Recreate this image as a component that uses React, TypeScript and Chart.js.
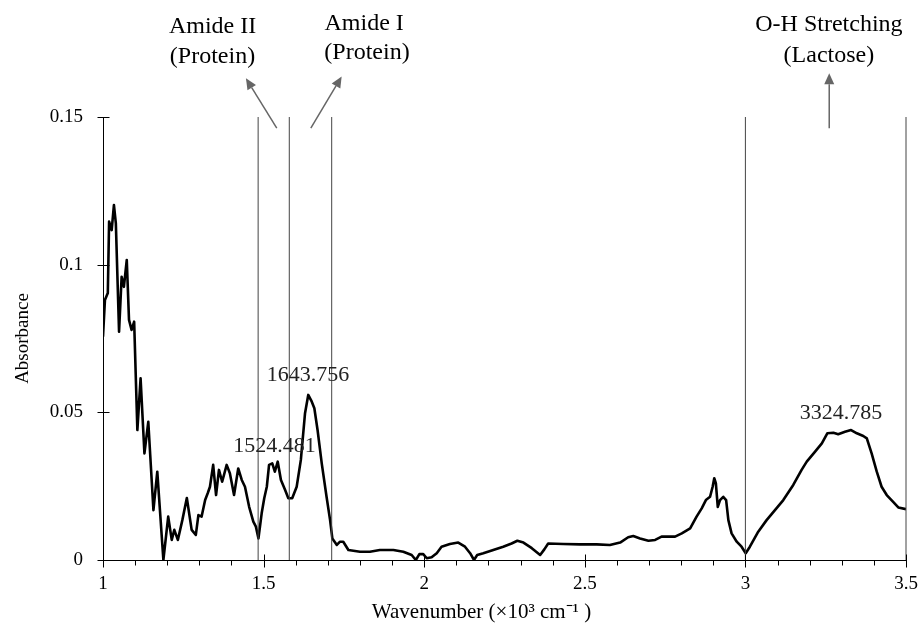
import React, { useEffect, useRef } from 'react';
import { Chart, registerables } from 'chart.js';

Chart.register(...registerables);

const wavenumber = [
  1.000, 1.006, 1.015, 1.019, 1.027, 1.034, 1.040, 1.050, 1.058, 1.065,
  1.074, 1.081, 1.089, 1.097, 1.107, 1.117, 1.129, 1.141, 1.157, 1.169,
  1.188, 1.203, 1.214, 1.222, 1.233, 1.247, 1.261, 1.276, 1.289, 1.297,
  1.307, 1.318, 1.326, 1.333, 1.343, 1.352, 1.361, 1.371, 1.385, 1.395,
  1.408, 1.421, 1.432, 1.442, 1.455, 1.468, 1.476, 1.484, 1.494, 1.502,
  1.510, 1.517, 1.527, 1.535, 1.544, 1.554, 1.567, 1.577, 1.589, 1.603,
  1.616, 1.629, 1.639, 1.650, 1.658, 1.668, 1.681, 1.696, 1.707, 1.714,
  1.728, 1.738, 1.748, 1.764, 1.800, 1.831, 1.862, 1.904, 1.935, 1.961,
  1.974, 1.985, 1.997, 2.008, 2.023, 2.039, 2.054, 2.080, 2.106, 2.127,
  2.143, 2.155, 2.165, 2.184, 2.215, 2.246, 2.272, 2.290, 2.309, 2.335,
  2.361, 2.374, 2.386, 2.433, 2.485, 2.537, 2.578, 2.610, 2.635, 2.651,
  2.672, 2.698, 2.719, 2.739, 2.781, 2.802, 2.828, 2.848, 2.864, 2.877,
  2.890, 2.898, 2.903, 2.908, 2.914, 2.921, 2.931, 2.940, 2.947, 2.957,
  2.973, 2.988, 3.001, 3.014, 3.040, 3.066, 3.092, 3.118, 3.149, 3.175,
  3.191, 3.217, 3.238, 3.255, 3.274, 3.289, 3.310, 3.329, 3.347, 3.367,
  3.378, 3.393, 3.409, 3.424, 3.440, 3.460, 3.476, 3.500,
];

const absorbance = [
  0.0756, 0.0880, 0.0904, 0.1146, 0.1117, 0.1202, 0.1140, 0.0773, 0.0959, 0.0925,
  0.1016, 0.0813, 0.0779, 0.0807, 0.0440, 0.0615, 0.0361, 0.0468, 0.0169, 0.0299,
  0.0000, 0.0147, 0.0068, 0.0102, 0.0068, 0.0135, 0.0210, 0.0102, 0.0085, 0.0152,
  0.0147, 0.0203, 0.0226, 0.0248, 0.0322, 0.0220, 0.0305, 0.0265, 0.0322, 0.0294,
  0.0220, 0.0310, 0.0271, 0.0248, 0.0180, 0.0130, 0.0113, 0.0073, 0.0158, 0.0209,
  0.0248, 0.0322, 0.0327, 0.0299, 0.0333, 0.0271, 0.0237, 0.0209, 0.0209, 0.0248,
  0.0339, 0.0497, 0.0559, 0.0536, 0.0514, 0.0440, 0.0327, 0.0214, 0.0135, 0.0073,
  0.0051, 0.0062, 0.0062, 0.0034, 0.0028, 0.0028, 0.0034, 0.0034, 0.0028, 0.0017,
  0.0000, 0.0020, 0.0020, 0.0006, 0.0009, 0.0023, 0.0045, 0.0054, 0.0059, 0.0045,
  0.0023, 0.0000, 0.0017, 0.0023, 0.0034, 0.0045, 0.0056, 0.0065, 0.0059, 0.0040,
  0.0017, 0.0036, 0.0056, 0.0054, 0.0053, 0.0053, 0.0051, 0.0059, 0.0077, 0.0081,
  0.0073, 0.0065, 0.0068, 0.0079, 0.0079, 0.0090, 0.0107, 0.0147, 0.0175, 0.0203,
  0.0214, 0.0248, 0.0277, 0.0260, 0.0180, 0.0203, 0.0214, 0.0203, 0.0135, 0.0090,
  0.0062, 0.0045, 0.0023, 0.0045, 0.0096, 0.0135, 0.0169, 0.0203, 0.0254, 0.0305,
  0.0333, 0.0367, 0.0395, 0.0429, 0.0431, 0.0426, 0.0434, 0.0440, 0.0429, 0.0420,
  0.0412, 0.0361, 0.0299, 0.0248, 0.0220, 0.0197, 0.0178, 0.0172,
];

const markerLines = [1.483, 1.58, 1.712, 3.0, 3.5];

const xTickLabels = ['1', '1.5', '2', '2.5', '3', '3.5'];
const yTickLabels = ['0', '0.05', '0.1', '0.15'];
const xTitle = 'Wavenumber (×10³ cm⁻¹ )';
const yTitle = 'Absorbance';

const peakLabels = ['1524.481', '1643.756', '3324.785'];
const peakLabelX = [1.534, 1.638, 3.298];
const peakLabelY = [0.0386, 0.0626, 0.0496];

const bandText = [
  ['Amide II', '(Protein)'],
  ['Amide I', '(Protein)'],
  ['O-H Stretching', '(Lactose)'],
];
const bandTextX = [[1.341, 1.341], [1.813, 1.822], [3.26, 3.26]];
const bandTextY = [[0.1805, 0.1703], [0.1815, 0.1717], [0.1812, 0.1707]];
const arrowFrom = [[1.541, 0.1462], [1.647, 0.1462], [3.261, 0.1462]];
const arrowTo = [[1.445, 0.1631], [1.743, 0.1637], [3.261, 0.1648]];

const FONT = "'Liberation Serif', 'Times New Roman', serif";

const overlayPlugin = {
  id: 'overlay',
  afterDraw(chart: any) {
    const { ctx, scales, chartArea } = chart;
    const x = scales.x;
    const y = scales.y;
    ctx.save();
    // tick marks
    ctx.strokeStyle = '#000';
    ctx.lineWidth = 1;
    const axisY = Math.round(y.getPixelForValue(0)) + 0.5;
    const axisX = Math.round(x.getPixelForValue(1)) + 0.5;
    x.ticks.forEach((t: any) => {
      const v = t.value;
      const major = Math.abs(v * 2 - Math.round(v * 2)) < 1e-6;
      const px = Math.round(x.getPixelForValue(v)) + 0.5;
      ctx.beginPath();
      ctx.moveTo(px, axisY + (major ? -6 : 0));
      ctx.lineTo(px, axisY + (major ? 7 : 5));
      ctx.stroke();
    });
    y.ticks.forEach((t: any) => {
      const py = Math.round(y.getPixelForValue(t.value)) + 0.5;
      ctx.beginPath();
      ctx.moveTo(axisX - 6, py);
      ctx.lineTo(axisX + 6, py);
      ctx.stroke();
    });

    // x axis title (offset left of center as in the reference)
    ctx.fillStyle = '#000';
    ctx.font = `21px ${FONT}`;
    ctx.textAlign = 'center';
    ctx.textBaseline = 'middle';
    ctx.fillText(xTitle, (chartArea.left + chartArea.right) / 2 - 23, 612);

    // peak labels
    ctx.fillStyle = '#222';
    ctx.font = `22px ${FONT}`;
    peakLabels.forEach((s, i) => {
      ctx.fillText(s, x.getPixelForValue(peakLabelX[i]), y.getPixelForValue(peakLabelY[i]));
    });

    // band annotations
    ctx.fillStyle = '#000';
    ctx.font = `24px ${FONT}`;
    bandText.forEach((lines, i) => {
      lines.forEach((s, j) => {
        ctx.fillText(s, x.getPixelForValue(bandTextX[i][j]), y.getPixelForValue(bandTextY[i][j]));
      });
    });

    // arrows
    ctx.strokeStyle = '#666';
    ctx.fillStyle = '#666';
    ctx.lineWidth = 1.5;
    arrowFrom.forEach((f, i) => {
      const x1 = x.getPixelForValue(f[0]);
      const y1 = y.getPixelForValue(f[1]);
      const x2 = x.getPixelForValue(arrowTo[i][0]);
      const y2 = y.getPixelForValue(arrowTo[i][1]);
      const ang = Math.atan2(y2 - y1, x2 - x1);
      const hl = 11;
      const hw = 5;
      const bx = x2 - hl * Math.cos(ang);
      const by = y2 - hl * Math.sin(ang);
      ctx.beginPath();
      ctx.moveTo(x1, y1);
      ctx.lineTo(bx, by);
      ctx.stroke();
      ctx.beginPath();
      ctx.moveTo(x2, y2);
      ctx.lineTo(bx + hw * Math.sin(ang), by - hw * Math.cos(ang));
      ctx.lineTo(bx - hw * Math.sin(ang), by + hw * Math.cos(ang));
      ctx.closePath();
      ctx.fill();
    });
    ctx.restore();
  },
};

export default function App() {
  const ref = useRef<HTMLCanvasElement | null>(null);

  useEffect(() => {
    document.body.style.margin = '0';
    const canvas = ref.current;
    if (!canvas) return;
    const spectrum = wavenumber.map((w, i) => ({ x: w, y: absorbance[i] }));
    const lineSets = markerLines.map((m) => ({
      type: 'line' as const,
      data: [{ x: m, y: 0 }, { x: m, y: 0.15 }],
      borderColor: '#444',
      borderWidth: 1,
      pointRadius: 0,
      clip: 2,
    }));
    const chart = new Chart(canvas, {
      type: 'line',
      data: {
        datasets: [
          ...lineSets,
          {
            data: spectrum,
            borderColor: '#000',
            borderWidth: 2.6,
            pointRadius: 0,
            tension: 0,
            borderJoinStyle: 'round',
          },
        ] as any,
      },
      options: {
        animation: false,
        responsive: false,
        parsing: false as any,
        layout: { padding: { top: 117, right: 13, left: 0, bottom: 0 } },
        plugins: { legend: { display: false }, tooltip: { enabled: false } },
        scales: {
          x: {
            type: 'linear',
            min: 1,
            max: 3.5,
            afterFit: (s: any) => {
              s.height = 67;
              s.paddingLeft = 0;
              s.paddingRight = 0;
            },
            grid: { display: false },
            border: { display: true, color: '#000', width: 1 },
            ticks: {
              stepSize: 0.1,
              autoSkip: false,
              maxRotation: 0,
              padding: 5,
              color: '#000',
              font: { family: FONT, size: 19 },
              callback: (v: any) => {
                const k = (Number(v) - 1) * 2;
                if (Math.abs(k - Math.round(k)) < 1e-6) return xTickLabels[Math.round(k)];
                return '';
              },
            },
            title: { display: false },
          },
          y: {
            type: 'linear',
            min: 0,
            max: 0.15,
            afterFit: (s: any) => {
              s.width = 103;
              s.paddingTop = 0;
              s.paddingBottom = 0;
            },
            grid: { display: false },
            border: { display: true, color: '#000', width: 1 },
            ticks: {
              stepSize: 0.05,
              padding: 12,
              color: '#000',
              font: { family: FONT, size: 19 },
              callback: (v: any) => yTickLabels[Math.round(Number(v) / 0.05)],
            },
            title: {
              display: true,
              text: yTitle,
              color: '#000',
              font: { family: FONT, size: 19 },
              padding: { top: 12, bottom: 0 },
            },
          },
        },
      },
      plugins: [overlayPlugin],
    });
    return () => chart.destroy();
  }, []);

  return (
    <div style={{ position: 'absolute', left: 0, top: 0, width: 919, height: 627, background: '#fff' }}>
      <canvas ref={ref} width={919} height={627} />
    </div>
  );
}
